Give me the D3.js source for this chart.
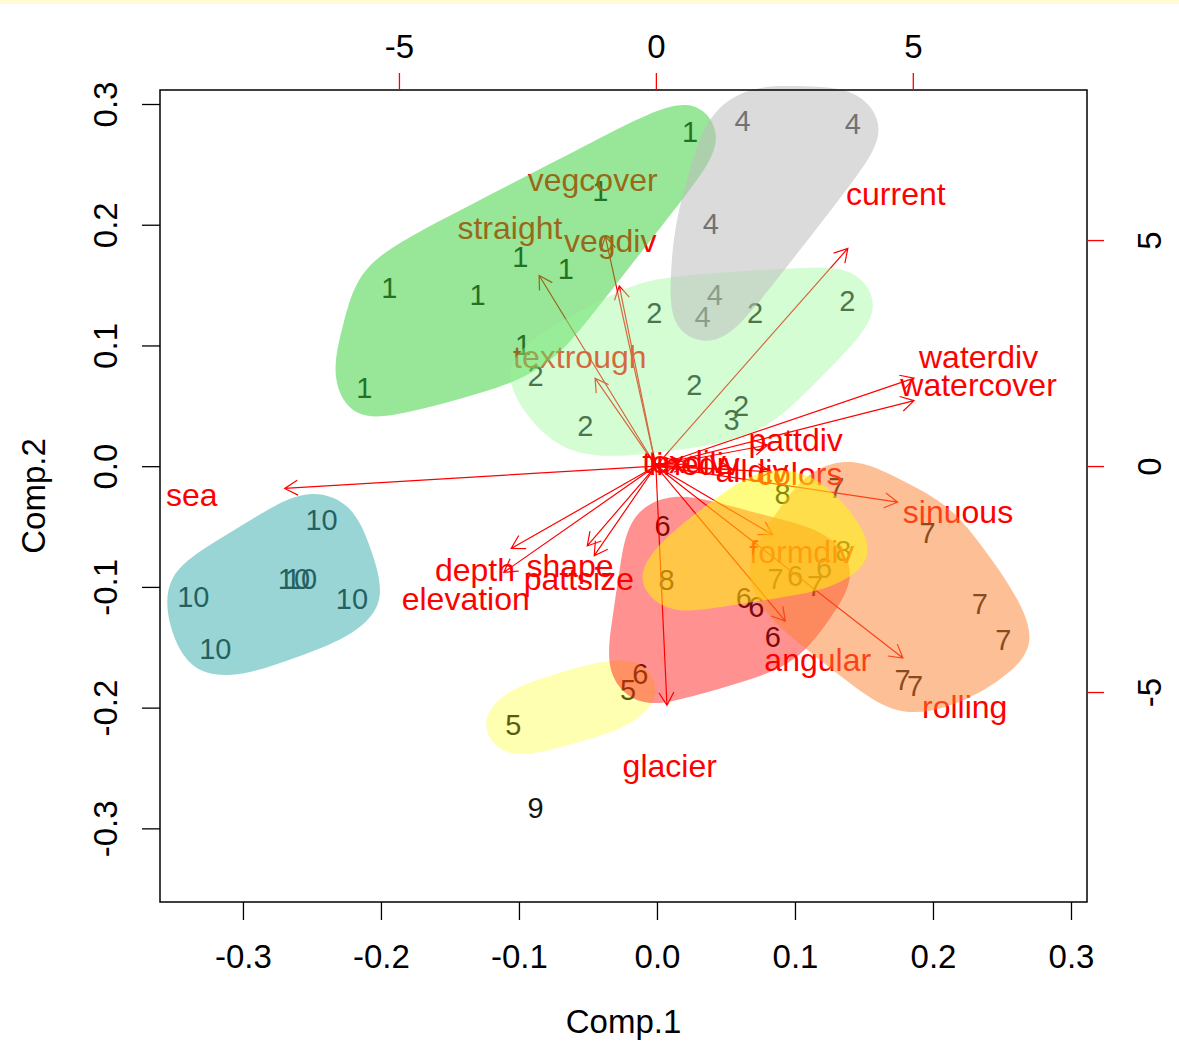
<!DOCTYPE html>
<html><head><meta charset="utf-8">
<script src="https://cdn.jsdelivr.net/npm/d3@7"></script>
<style>body{margin:0;background:#fff;overflow:hidden}text{font-family:"Liberation Sans",Arial,sans-serif}</style>
</head><body><svg id="c" width="1179" height="1062"></svg>
<script>
// ---- data ----
const pointX = [0.024,-0.041,-0.099,-0.066,-0.194,-0.130,-0.097,-0.212,
  -0.002,0.071,0.138,-0.088,0.027,0.061,-0.052,
  0.054,
  0.062,0.142,0.039,0.042,0.033,
  -0.021,-0.104,
  0.004,0.063,0.072,0.084,-0.012,0.100,0.121,
  0.130,0.196,0.086,0.1145,0.234,0.251,0.178,0.187,
  0.091,0.135,0.007,
  -0.088,
  -0.243,-0.263,-0.258,-0.336,-0.221,-0.320];
const pointY = [0.277,0.228,0.174,0.164,0.148,0.142,0.101,0.065,
  0.127,0.127,0.137,0.075,0.068,0.050,0.034,
  0.039,
  0.286,0.284,0.201,0.142,0.124,
  -0.185,-0.214,
  -0.049,-0.109,-0.116,-0.141,-0.172,-0.091,-0.084,
  -0.018,-0.055,-0.093,-0.0985,-0.114,-0.144,-0.177,-0.182,
  -0.023,-0.070,-0.094,
  -0.283,
  -0.044,-0.093,-0.093,-0.108,-0.110,-0.151];
const pointGroup = [1,1,1,1,1,1,1,1,
  2,2,2,2,2,2,2,
  3,
  4,4,4,4,4,
  5,5,
  6,6,6,6,6,6,6,
  7,7,7,7,7,7,7,7,
  8,8,8,
  9,
  10,10,10,10,10,10];
const varNames = ["sea","current","waterdiv","watercover","pattdiv","alldiv","colors","texdiv","linediv",
  "sinuous","formdiv","angular","rolling","glacier","elevation","depth","shape","pattsize",
  "straight","vegcover","vegdiv","textrough"];
const varX = [-9.03,4.67,6.28,6.28,2.72,1.87,2.80,0.55,0.75,
  5.88,2.84,3.15,6.01,0.27,-3.70,-3.52,-1.67,-1.50,
  -2.84,-1.23,-0.89,-1.48];
const varY = [-0.62,6.02,2.43,1.81,0.58,-0.09,-0.16,0.10,0.06,
  -1.00,-1.90,-4.29,-5.31,-6.62,-2.94,-2.28,-2.21,-2.48,
  5.27,6.35,4.98,2.43];
const hullGroups = [1,2,4,5,6,7,8,10];
const xTicks = [-0.3,-0.2,-0.1,0.0,0.1,0.2,0.3];
const yTicks = [-0.3,-0.2,-0.1,0.0,0.1,0.2,0.3];
const x2Ticks = [-5,0,5];
const y2Ticks = [-5,0,5];

// ---- styles ----
const hullStyle = {
  1:{fill:"rgb(50,205,50)",op:0.5},
  2:{fill:"rgb(152,251,152)",op:0.42},
  4:{fill:"rgb(190,190,190)",op:0.55},
  5:{fill:"rgb(255,255,0)",op:0.3},
  6:{fill:"rgb(255,0,0)",op:0.43},
  7:{fill:"rgb(252,130,45)",op:0.5},
  8:{fill:"rgb(255,252,0)",op:0.5},
  10:{fill:"rgb(51,171,171)",op:0.5}
};

const L=160,R=1087,T=90,B=902;
const svg = d3.select("#c");
svg.append("rect").attr("x",0).attr("y",0).attr("width",1179).attr("height",4).attr("fill","#fffbd3");

const x = d3.scaleLinear().domain([-0.3601,0.3116]).range([L,R]);
const y = d3.scaleLinear().domain([-0.361,0.3116]).range([B,T]);
const x2 = d3.scaleLinear().domain([-9.65,8.39]).range([L,R]);
const y2 = d3.scaleLinear().domain([-9.646,8.32]).range([B,T]);

const plot = svg.append("g");

// points (group numbers)
const pts = pointX.map((v,i)=>({x:v,y:pointY[i],g:pointGroup[i]}));
plot.selectAll("text.pt").data(pts).enter().append("text")
  .attr("class","pt").attr("x",d=>x(d.x)).attr("y",d=>y(d.y)).attr("dy","0.36em")
  .attr("text-anchor","middle").attr("font-size",29).attr("fill","#151515")
  .text(d=>d.g);

// arrows
const vars = varNames.map((n,i)=>({n,x:varX[i],y:varY[i]}));
const ox = x2(0), oy = y2(0);
const headLen = 15, headAng = Math.PI/6;
plot.selectAll("path.arr").data(vars).enter().append("path")
  .attr("class","arr").attr("fill","none").attr("stroke","#ff0000").attr("stroke-width",1.2)
  .attr("d",d=>{
    const tx = x2(0.8*d.x), ty = y2(0.8*d.y);
    const a = Math.atan2(ty-oy, tx-ox);
    const p = d3.path();
    p.moveTo(ox,oy); p.lineTo(tx,ty);
    p.moveTo(tx-headLen*Math.cos(a-headAng), ty-headLen*Math.sin(a-headAng));
    p.lineTo(tx,ty);
    p.lineTo(tx-headLen*Math.cos(a+headAng), ty-headLen*Math.sin(a+headAng));
    return p.toString();
  });
plot.selectAll("text.var").data(vars).enter().append("text")
  .attr("class","var").attr("x",d=>x2(d.x)).attr("y",d=>y2(d.y)).attr("dy","0.36em")
  .attr("text-anchor","middle").attr("font-size",32).attr("fill","#ff0000")
  .text(d=>d.n);

// hulls drawn on top (semi-transparent), smoothed
const line = d3.line().curve(d3.curveBasisClosed);
function resample(poly, step){
  const out=[]; const n=poly.length;
  let per=0; const segs=[];
  for(let i=0;i<n;i++){const a=poly[i],b=poly[(i+1)%n];const l=Math.hypot(b[0]-a[0],b[1]-a[1]);segs.push([a,b,l]);per+=l;}
  const m = Math.max(10, Math.round(per/step)); const ds=per/m;
  let si=0, acc=0;
  for(let k=0;k<m;k++){
    const t=k*ds;
    while(si<segs.length-1 && acc+segs[si][2]<t){acc+=segs[si][2];si++;}
    const [a,b,l]=segs[si]; const f=l?(t-acc)/l:0;
    out.push([a[0]+(b[0]-a[0])*f, a[1]+(b[1]-a[1])*f]);
  }
  return out;
}
hullGroups.forEach(g=>{
  const gp = pts.filter(p=>p.g===g).map(p=>[x(p.x),y(p.y)]);
  const r = 36, ex = [];
  gp.forEach(p=>{ for(let k=0;k<36;k++){const a=2*Math.PI*k/36; ex.push([p[0]+r*Math.cos(a), p[1]+r*Math.sin(a)]);} });
  const h = d3.polygonHull(ex).reverse();
  plot.append("path").attr("d",line(resample(h,55))).attr("fill",hullStyle[g].fill).attr("fill-opacity",hullStyle[g].op).attr("stroke","none");
});

// box
svg.append("rect").attr("x",L).attr("y",T).attr("width",R-L).attr("height",B-T)
  .attr("fill","none").attr("stroke","#000").attr("stroke-width",1.5);

const fmt = d=>d.toFixed(1);
// bottom axis
const ab = svg.append("g").attr("transform",`translate(0,${B})`)
  .call(d3.axisBottom(x).tickValues(xTicks).tickSize(18).tickFormat(fmt));
ab.select(".domain").remove();
ab.selectAll("line").attr("stroke","#000").attr("stroke-width",1.3);
ab.selectAll("text").attr("y",54).attr("dy","0.36em").attr("font-size",33).attr("fill","#000").attr("font-family",null);

// left axis
const al = svg.append("g").attr("transform",`translate(${L},0)`)
  .call(d3.axisLeft(y).tickValues(yTicks).tickSize(18).tickFormat(fmt));
al.select(".domain").remove();
al.selectAll("line").attr("stroke","#000").attr("stroke-width",1.3);
al.selectAll("text").attr("x",0).attr("y",0).attr("dy","0.36em").attr("text-anchor","middle")
  .attr("transform","translate(-55,0) rotate(-90)").attr("font-size",33).attr("fill","#000").attr("font-family",null);

// top axis (secondary)
const at = svg.append("g").attr("transform",`translate(0,${T})`)
  .call(d3.axisTop(x2).tickValues(x2Ticks).tickSize(17).tickFormat(d=>String(d)));
at.select(".domain").remove();
at.selectAll("line").attr("stroke","#ff0000").attr("stroke-width",1.3);
at.selectAll("text").attr("y",-44).attr("dy","0.36em").attr("font-size",33).attr("fill","#000").attr("font-family",null);

// right axis (secondary)
const ar = svg.append("g").attr("transform",`translate(${R},0)`)
  .call(d3.axisRight(y2).tickValues(y2Ticks).tickSize(17).tickFormat(d=>String(d)));
ar.select(".domain").remove();
ar.selectAll("line").attr("stroke","#ff0000").attr("stroke-width",1.3);
ar.selectAll("text").attr("x",0).attr("y",0).attr("dy","0.36em").attr("text-anchor","middle")
  .attr("transform","translate(62,0) rotate(-90)").attr("font-size",33).attr("fill","#000").attr("font-family",null);

// titles
svg.append("text").attr("x",(L+R)/2).attr("y",1021).attr("dy","0.36em").attr("text-anchor","middle")
  .attr("font-size",33).attr("fill","#000").text("Comp.1");
svg.append("text").attr("transform",`translate(33,${(T+B)/2}) rotate(-90)`).attr("dy","0.36em").attr("text-anchor","middle")
  .attr("font-size",33).attr("fill","#000").text("Comp.2");
</script></body></html>
